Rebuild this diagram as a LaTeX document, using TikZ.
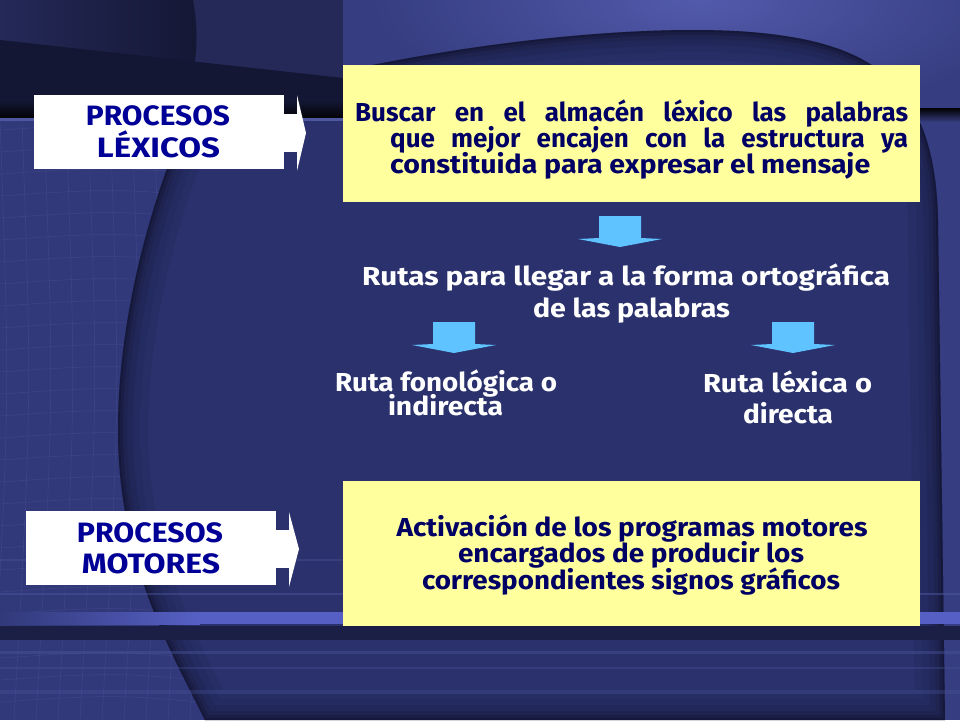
\documentclass[tikz,border=0pt]{standalone}
\usepackage{graphicx}
\usepackage{fontspec}
\setmainfont{Fira Sans}
\definecolor{bgouter}{RGB}{54,61,128}
\definecolor{bgmain}{RGB}{42,49,108}
\definecolor{bgleft}{RGB}{50,57,122}
\definecolor{bgdark}{RGB}{20,23,52}
\definecolor{bgtl}{RGB}{36,41,88}
\definecolor{glow}{RGB}{82,90,172}
\definecolor{gridc}{RGB}{78,88,160}
\definecolor{stripe}{RGB}{86,96,196}
\definecolor{boxyellow}{RGB}{255,255,158}
\definecolor{navytxt}{RGB}{0,0,100}
\definecolor{bluetxt}{RGB}{0,0,150}
\definecolor{arrowblue}{RGB}{95,195,255}
\newcommand\blockdown[2]{%
  \fill[darrow] (#1-21,#2) -- (#1+21,#2) -- (#1+21,#2+22) -- (#1+42,#2+23)
    -- (#1,#2+31) -- (#1-42,#2+23) -- (#1-21,#2+22) -- cycle;}
\newcommand\fitw[2]{\resizebox{#1pt}{\height}{#2}}
\begin{document}
\begin{tikzpicture}[x=1pt,y=-1pt,
  ybox/.style={fill=boxyellow, inner sep=0pt, anchor=north west},
  wbox/.style={fill=white, inner sep=0pt, anchor=north west},
  ytext/.style={text=navytxt, font=\fontsize{26}{26}\selectfont\bfseries, inner sep=0pt},
  wtext/.style={text=white, font=\fontsize{26}{26}\selectfont\bfseries, inner sep=0pt, anchor=base},
  ptext/.style={text=bluetxt, font=\fontsize{28}{28}\selectfont\bfseries, inner sep=0pt, anchor=base},
  darrow/.style={fill=arrowblue},
]
\useasboundingbox (0,0) rectangle (960,720);
% ---------- background ----------
\fill[bgouter] (0,0) rectangle (960,720);
\shade[inner color=glow, outer color=bgouter] (700,0) ellipse [x radius=330, y radius=120];
\fill[bgleft] (0,110) rectangle (260,720);
\foreach \gx in {0,22,...,242} \draw[gridc, line width=0.6pt, opacity=0.35] (\gx,120) .. controls (\gx+10,400) .. (\gx-8,720);
\foreach \gy in {130,152,...,720} \draw[gridc, line width=0.6pt, opacity=0.35] (0,\gy) .. controls (120,\gy-8) .. (260,\gy+6);
\def\blobpath{(190,112) .. controls (380,50) and (620,22) .. (750,32) .. controls (870,42) and (935,80) .. (938,220) -- (945,720) -- (205,720) .. controls (170,650) and (118,560) .. (118,430) .. controls (118,320) and (150,200) .. (190,112) -- cycle}
\fill[bgmain] \blobpath;
\begin{scope}
  \clip \blobpath;
  \foreach \w/\o in {60/0.05,44/0.06,30/0.07,18/0.09,10/0.12,4/0.18}
    \draw[black, line width=\w pt, opacity=\o] \blobpath;
\end{scope}
% top-left header
\fill[bgtl] (0,0) rectangle (343,112);
\shade[left color=bgtl, right color=bgdark] (0,0) -- (193,0) .. controls (200,40) and (196,70) .. (185,100) -- (0,100) -- cycle;
\fill[bgdark] (0,40) -- (343,78) -- (343,104) -- (0,104) -- cycle;
\shade[top color=bgdark, bottom color=black!85!bgdark] (0,100) rectangle (343,118);
\fill[gridc] (0,118) rectangle (343,121);
\shade[top color=black, bottom color=bgouter] (920,108) rectangle (960,122);
% bottom stripes
\draw[gridc, line width=1.5pt, opacity=0.35] (0,560) -- (343,560);
\draw[gridc, line width=1.5pt, opacity=0.45] (0,594) -- (343,594);
\draw[gridc, line width=2pt, opacity=0.5] (920,594) -- (960,594);
\shade[left color=bgleft, right color=stripe] (0,612) rectangle (200,624);
\fill[stripe] (200,612) rectangle (960,624);
\fill[bgdark!70!bgmain] (0,626) rectangle (960,640);
\draw[gridc, line width=3pt, opacity=0.4] (0,652) -- (960,652);
\draw[gridc, line width=2pt, opacity=0.3] (0,668) -- (960,668);
\draw[gridc, line width=4pt, opacity=0.3] (0,692) -- (960,692);
% ---------- content ----------
% white arrow boxes
\node[wbox, minimum width=250pt, minimum height=74pt] (lexbox) at (34,95) {};
\fill[white] (lexbox.east |- 0,114) rectangle (297,152);
\fill[white] (297,95) -- (306,133) -- (297,171) -- cycle;
\node[ptext] (lex1) at (158,125) {\fitw{144}{PROCESOS}};
\node[ptext] (lex2) at (158.5,157) {\fitw{123}{LÉXICOS}};

\node[wbox, minimum width=250pt, minimum height=74pt] (motbox) at (26,511) {};
\fill[white] (motbox.east |- 0,530) rectangle (289,568);
\fill[white] (289,512) -- (299,549) -- (289,587) -- cycle;
\node[ptext] (mot1) at (150,542) {\fitw{146}{PROCESOS}};
\node[ptext] (mot2) at (151,573) {\fitw{138}{MOTORES}};

% yellow boxes
\node[ybox, minimum width=577pt, minimum height=137pt] (topbox) at (343,65) {};
\node[ytext, anchor=base west] (t1) at (355,121) {\makebox[553pt][s]{Buscar en el almacén léxico las palabras}};
\node[ytext, anchor=base west] (t2) at (390,147) {\makebox[518pt][s]{que mejor encajen con la estructura ya}};
\node[ytext, anchor=base west] (t3) at (390,173) {\fitw{480}{constituida para expresar el mensaje}};

\node[ybox, minimum width=577pt, minimum height=145pt] (botbox) at (343,481) {};
\node[ytext, anchor=base] (b1) at (632,536) {\fitw{471}{Activación de los programas motores}};
\node[ytext, anchor=base] (b2) at (631,562) {\fitw{346}{encargados de producir los}};
\node[ytext, anchor=base] (b3) at (631,589) {\fitw{418}{correspondientes signos gráficos}};

% routes
\blockdown{620}{216}
\node[wtext] (r1) at (626,285) {\fitw{528}{Rutas para llegar a la forma ortográfica}};
\node[wtext] (r2) at (631.5,317) {\fitw{197}{de las palabras}};
\blockdown{454}{322}
\blockdown{793}{322}
\node[wtext] (f1) at (446,391) {\fitw{222}{Ruta fonológica o}};
\node[wtext] (f2) at (445.5,415) {\fitw{115}{indirecta}};
\node[wtext] (l1) at (787.5,392) {\fitw{169}{Ruta léxica o}};
\node[wtext] (l2) at (788,423) {\fitw{90}{directa}};
\end{tikzpicture}
\end{document}
